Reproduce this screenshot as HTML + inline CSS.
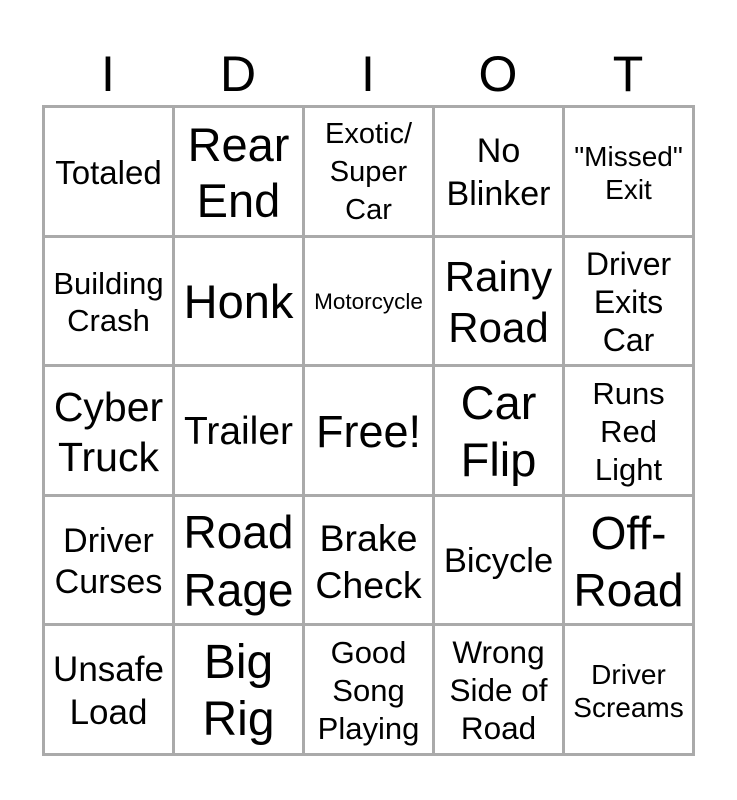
<!DOCTYPE html><html><head><style>
body{margin:0;width:737px;height:800px;background:#fff;font-family:"Liberation Sans",Arial,sans-serif;position:relative;overflow:hidden}
.h{position:absolute;top:44px;width:130px;text-align:center;font-size:50px;line-height:60px}
.g{position:absolute;left:42px;top:105px;width:653px;height:651px;display:grid;grid-template-columns:repeat(5,1fr);grid-template-rows:repeat(5,1fr);background:#aaa;gap:3px;padding:3px;box-sizing:border-box}
.c{background:#fff;display:flex;align-items:center;justify-content:center;text-align:center;line-height:1.15;padding-top:3px;box-sizing:border-box}
</style></head><body>
<div class="h" style="left:43px">I</div><div class="h" style="left:173px">D</div><div class="h" style="left:303px">I</div><div class="h" style="left:433px">O</div><div class="h" style="left:563px">T</div>
<div class="g">
<div class="c" style="font-size:33px">Totaled</div>
<div class="c" style="font-size:47px;line-height:1.19">Rear<br>End</div>
<div class="c" style="font-size:29px;line-height:1.3">Exotic/<br>Super<br>Car</div>
<div class="c" style="font-size:34px;line-height:1.27">No<br>Blinker</div>
<div class="c" style="font-size:28px;line-height:1.18">"Missed"<br>Exit</div>
<div class="c" style="font-size:31px;line-height:1.2">Building<br>Crash</div>
<div class="c" style="font-size:47px">Honk</div>
<div class="c" style="font-size:22.5px">Motorcycle</div>
<div class="c" style="font-size:42px;line-height:1.22">Rainy<br>Road</div>
<div class="c" style="font-size:32px;line-height:1.19">Driver<br>Exits<br>Car</div>
<div class="c" style="font-size:41px;line-height:1.22">Cyber<br>Truck</div>
<div class="c" style="font-size:39px">Trailer</div>
<div class="c" style="font-size:45px">Free!</div>
<div class="c" style="font-size:47px;line-height:1.21">Car<br>Flip</div>
<div class="c" style="font-size:31px;line-height:1.22">Runs<br>Red<br>Light</div>
<div class="c" style="font-size:34px;line-height:1.2">Driver<br>Curses</div>
<div class="c" style="font-size:46px;line-height:1.26">Road<br>Rage</div>
<div class="c" style="font-size:37.5px;line-height:1.25">Brake<br>Check</div>
<div class="c" style="font-size:34.5px">Bicycle</div>
<div class="c" style="font-size:46px;line-height:1.22">Off-<br>Road</div>
<div class="c" style="font-size:35px;line-height:1.23">Unsafe<br>Load</div>
<div class="c" style="font-size:48px;line-height:1.19">Big<br>Rig</div>
<div class="c" style="font-size:31px;line-height:1.22">Good<br>Song<br>Playing</div>
<div class="c" style="font-size:31.5px;line-height:1.2">Wrong<br>Side of<br>Road</div>
<div class="c" style="font-size:28px;line-height:1.18">Driver<br>Screams</div>
</div>
</body></html>
